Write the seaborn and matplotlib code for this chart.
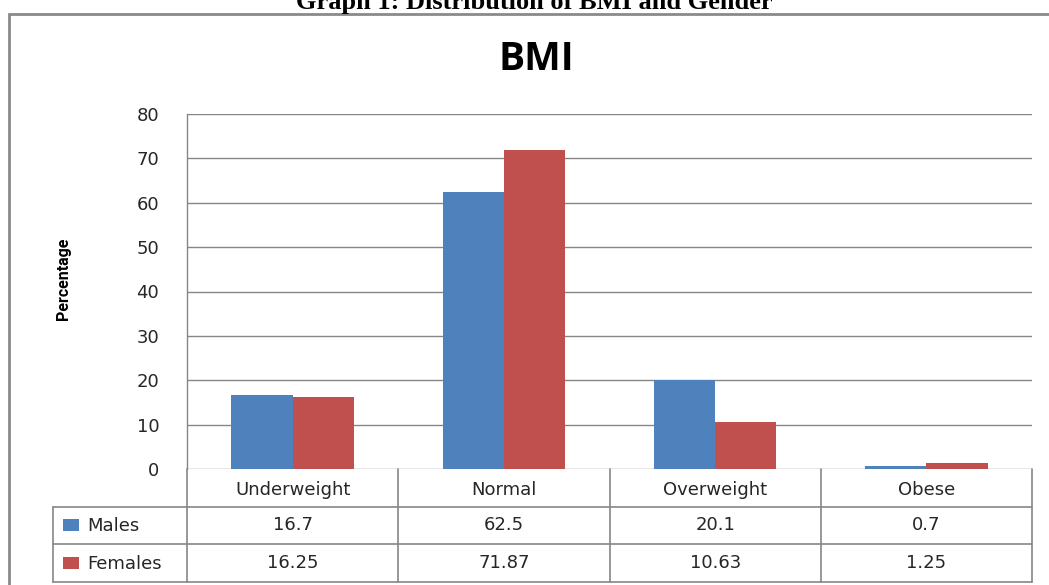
import matplotlib
matplotlib.use("Agg")
import matplotlib.pyplot as plt
from matplotlib.patches import Rectangle
from matplotlib.lines import Line2D
import seaborn as sns
import pandas as pd

categories = ["Underweight", "Normal", "Overweight", "Obese"]
males = [16.7, 62.5, 20.1, 0.7]
females = [16.25, 71.87, 10.63, 1.25]
series_names = ["Males", "Females"]
series_colors = ["#4F81BD", "#C0504D"]
yticks = [0, 10, 20, 30, 40, 50, 60, 70, 80]

df = pd.DataFrame({
    "BMI": categories * 2,
    "Gender": ["Males"] * 4 + ["Females"] * 4,
    "Percentage": males + females,
})

sns.set_style("white")
W, H = 1049, 585
fig = plt.figure(figsize=(W / 100, H / 100), dpi=100)


def fx(px):
    return px / W


def fy(py):
    return 1 - py / H


grid_col = "#868686"
text_col = "#262626"

# plot area
ax_l, ax_r, ax_t, ax_b = 187, 1032, 114, 469
ax = fig.add_axes([fx(ax_l), fy(ax_b), fx(ax_r - ax_l), (ax_b - ax_t) / H])
sns.barplot(data=df, x="BMI", y="Percentage", hue="Gender",
            hue_order=series_names, palette=series_colors,
            width=0.58, saturation=1, linewidth=0, ax=ax, legend=False,
            errorbar=None)
ax.set_xlim(-0.5, 3.5)
ax.set_ylim(0, 80)
ax.set_yticks(yticks)
ax.set_yticklabels([str(v) for v in yticks], fontsize=13, color=text_col,
                   family="DejaVu Sans")
ax.tick_params(axis="y", length=0, pad=20)
ax.tick_params(axis="x", length=0, labelbottom=False)
ax.set_xlabel("")
ax.set_ylabel("")
ax.yaxis.grid(True, color=grid_col, linewidth=1)
ax.set_axisbelow(True)
for s in ["top", "right", "bottom"]:
    ax.spines[s].set_visible(False)
ax.spines["left"].set_color(grid_col)
ax.spines["left"].set_linewidth(1)

fig.text(fx(63), fy(279), "Percentage", rotation=90, ha="center", va="center",
         fontsize=11.5, fontweight="bold",
         family=["Roboto", "DejaVu Sans"], color="black")

# chart title
fig.text(fx(536), fy(60), "BMI", ha="center", va="center", fontsize=28,
         fontweight="bold", family="Open Sans", color="black")

# figure caption above the frame
fig.text(fx(534), fy(9), "Graph 1: Distribution of BMI and Gender",
         ha="center", va="baseline", fontsize=19, fontweight="bold",
         family="Liberation Serif", color="black")

# outer frame
fig.add_artist(Rectangle((fx(9), fy(600)), fx(1060 - 9), (600 - 14) / H,
                         transform=fig.transFigure, fill=False,
                         edgecolor="#8a8a8a", linewidth=2, clip_on=False))

# data table below the bars
tb_t, tb_b = 469, 582
tab = fig.add_axes([fx(ax_l), fy(tb_b), fx(ax_r - ax_l), (tb_b - tb_t) / H])
tab.set_xlim(-0.5, 3.5)
tab.set_ylim(3, 0)
tab.axis("off")
cat_w = (ax_r - ax_l) / 4
x_leg = -0.5 - (ax_l - 53) / cat_w
lk = dict(color=grid_col, linewidth=1.2, clip_on=False)
for r in [1, 2, 3]:
    tab.add_line(Line2D([x_leg, 3.5], [r, r], **lk))
for c in [-0.5, 0.5, 1.5, 2.5, 3.5]:
    tab.add_line(Line2D([c, c], [0, 3], **lk))
tab.add_line(Line2D([x_leg, x_leg], [1, 3], **lk))

fs = 13
for i, cat in enumerate(categories):
    tab.text(i, 0.55, cat, ha="center", va="center", fontsize=fs,
             color=text_col, family="DejaVu Sans")
for r, (name, vals, col) in enumerate(zip(series_names, [males, females],
                                          series_colors), start=1):
    for i, v in enumerate(vals):
        tab.text(i, r + 0.5, f"{v:g}", ha="center", va="center",
                 fontsize=fs, color=text_col, family="DejaVu Sans")
    sq_x0 = x_leg + 10 / cat_w
    tab.add_patch(Rectangle((sq_x0, r + 0.5 - 0.17), 16 / cat_w, 0.32,
                            facecolor=col, edgecolor="none", clip_on=False))
    tab.text(x_leg + 34 / cat_w, r + 0.52, name, ha="left", va="center",
             fontsize=fs, color=text_col, family="DejaVu Sans")

fig.savefig("out.png", dpi=100)
